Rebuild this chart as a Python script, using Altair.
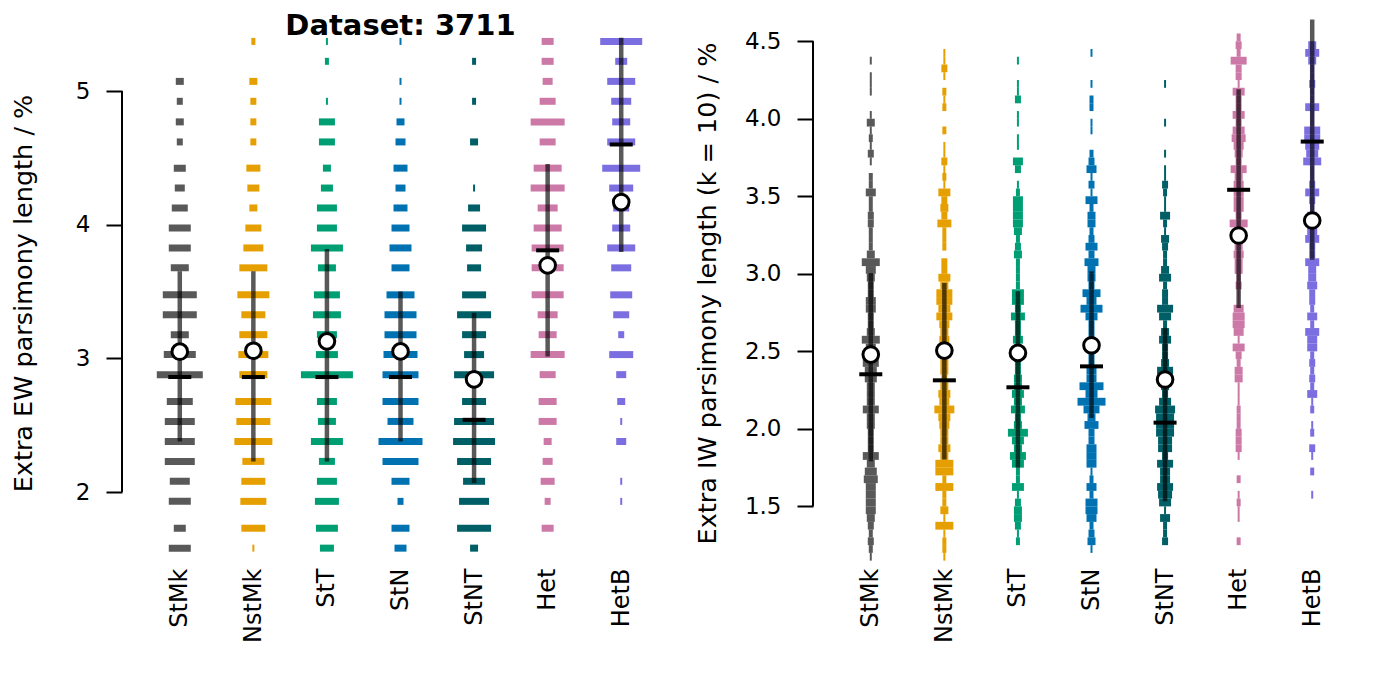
import altair as alt
import pandas as pd

cats = ["StMk", "NstMk", "StT", "StN", "StNT", "Het", "HetB"]
colors = ["#595959", "#E69F00", "#009E73", "#0072B2", "#005F66", "#CC79A7", "#7B6EE0"]

# ---------------- Left panel: extra EW parsimony length (%) ----------------
ew_levels = [5.371, 5.222, 5.072, 4.923, 4.769, 4.619, 4.423, 4.274, 4.125, 3.975,
             3.826, 3.677, 3.475, 3.326, 3.177, 3.028, 2.878, 2.677, 2.528, 2.378,
             2.229, 2.080, 1.930, 1.729, 1.580]
ew_counts = {
    "StMk":  [0, 0, 4, 3, 4, 3, 6, 5, 8, 11, 11, 9, 17, 17, 9, 16, 23, 13, 15, 15, 15, 10, 11, 6, 11],
    "NstMk": [2, 0, 4, 3, 3, 3, 7, 6, 4, 8, 10, 14, 16, 12, 14, 15, 14, 18, 17, 19, 11, 12, 13, 12, 1],
    "StT":   [1, 2, 0, 1, 8, 8, 4, 6, 10, 10, 16, 9, 13, 14, 10, 11, 26, 10, 9, 16, 8, 10, 12, 11, 7],
    "StN":   [1, 0, 1, 1, 4, 5, 7, 5, 7, 9, 11, 9, 14, 16, 16, 17, 18, 18, 13, 22, 18, 9, 3, 9, 6],
    "StNT":  [0, 2, 0, 2, 0, 4, 0, 1, 6, 12, 8, 7, 12, 17, 12, 10, 20, 12, 20, 21, 17, 11, 15, 17, 4],
    "Het":   [6, 6, 5, 8, 17, 8, 14, 17, 10, 14, 16, 16, 16, 10, 9, 17, 8, 9, 9, 4, 5, 7, 3, 6, 0],
    "HetB":  [21, 6, 14, 10, 9, 14, 19, 12, 8, 9, 14, 10, 11, 8, 3, 12, 5, 4, 1, 5, 0, 1, 1, 0, 0],
}
ew_lo = [2.378, 2.229, 2.229, 2.378, 2.067, 3.013, 3.796]
ew_hi = [3.652, 3.652, 3.818, 3.500, 3.341, 4.453, 5.398]
ew_median = [2.86, 2.86, 2.86, 2.86, 2.54, 3.808, 4.60]
ew_mean = [3.050, 3.057, 3.127, 3.052, 2.843, 3.696, 4.169]

# ---------------- Right panel: extra IW parsimony length (k = 10) (%) ----------------
iw_bin_top = 4.65
iw_bin_width = 0.05
iw_counts = {
    "StMk":  [0, 0, 0, 0, 0, 1, 0, 1, 1, 1, 0, 0, 1, 4, 1, 2, 1, 3, 1, 0, 2, 2,
              5, 2, 2, 3, 3, 2, 2, 2, 4, 9, 5, 4, 3, 3, 5, 5, 3, 3, 4, 9,
              5, 5, 8, 6, 6, 4, 4, 4, 8, 4, 4, 3, 3, 3, 8, 4, 6, 7, 5, 5, 5,
              5, 4, 3, 2, 3, 2, 1],
    "NstMk": [0, 0, 0, 0, 1, 1, 3, 1, 0, 2, 1, 2, 0, 0, 2, 0, 1, 1, 3, 1, 2, 1,
              6, 3, 4, 3, 7, 2, 2, 2, 0, 3, 3, 6, 4, 8, 8, 6, 8, 5, 4, 5, 3,
              3, 4, 4, 3, 4, 6, 5, 10, 6, 5, 4, 4, 6, 4, 9, 9, 2, 9, 2, 2,
              4, 1, 9, 1, 2, 2, 1],
    "StT":   [0, 0, 0, 0, 0, 1, 0, 0, 1, 1, 3, 0, 1, 1, 0, 1, 1, 0, 5, 3, 0, 1,
              2, 5, 5, 5, 5, 4, 2, 3, 4, 2, 2, 2, 2, 6, 6, 3, 7, 3, 3, 5, 3,
              3, 3, 3, 4, 4, 6, 4, 7, 3, 4, 10, 6, 4, 8, 6, 2, 2, 6, 1, 3,
              4, 4, 3, 1, 2, 0, 0],
    "StN":   [0, 0, 0, 0, 1, 0, 0, 0, 1, 0, 2, 2, 0, 1, 1, 0, 0, 2, 3, 5, 1, 3,
              1, 6, 2, 4, 4, 2, 3, 6, 3, 7, 4, 4, 3, 9, 5, 11, 6, 3, 3, 3,
              3, 3, 3, 5, 5, 12, 6, 14, 8, 4, 7, 3, 3, 5, 5, 5, 1, 2, 5, 2,
              6, 6, 5, 2, 3, 4, 1, 0],
    "StNT":  [0, 0, 0, 0, 0, 0, 0, 0, 1, 0, 0, 0, 0, 1, 0, 0, 0, 1, 0, 1, 1, 3,
              2, 1, 1, 5, 2, 1, 4, 3, 2, 2, 4, 6, 2, 3, 3, 8, 6, 2, 4, 6, 3,
              3, 4, 8, 4, 4, 3, 6, 10, 9, 9, 9, 7, 7, 3, 8, 5, 5, 8, 7, 6,
              1, 5, 2, 2, 3, 0, 0],
    "Het":   [0, 0, 2, 3, 2, 8, 3, 3, 1, 6, 3, 3, 6, 3, 6, 7, 5, 4, 3, 8, 4, 5,
              5, 5, 5, 3, 9, 4, 4, 4, 5, 4, 4, 2, 3, 1, 1, 5, 6, 6, 5, 1, 6,
              3, 2, 4, 4, 1, 1, 1, 2, 2, 2, 3, 3, 3, 1, 0, 0, 2, 0, 1, 2,
              1, 1, 0, 0, 2, 0, 0],
    "HetB":  [0, 0, 0, 4, 7, 4, 2, 2, 3, 2, 2, 7, 2, 2, 8, 8, 7, 6, 9, 2, 2, 3,
              7, 3, 2, 5, 5, 5, 7, 3, 3, 7, 4, 4, 5, 3, 3, 2, 5, 2, 7, 5, 5,
              2, 3, 2, 3, 2, 5, 1, 2, 0, 1, 2, 0, 3, 1, 0, 2, 0, 0, 1, 0,
              0, 0, 0, 0, 0, 0, 0],
}
iw_lo = [1.791, 1.802, 1.749, 2.070, 1.533, 2.780, 3.090]
iw_hi = [3.005, 2.940, 2.887, 3.016, 2.650, 4.190, 4.640]
iw_median = [2.352, 2.313, 2.268, 2.403, 2.040, 3.542, 3.853]
iw_mean = [2.479, 2.505, 2.490, 2.539, 2.318, 3.247, 3.344]

n_bins = len(iw_counts["StMk"])
iw_levels = [round(iw_bin_top - iw_bin_width * (i + 0.5), 4) for i in range(n_bins)]

FONT = "DejaVu Sans"
W = 515
H = 552


def make_bars(levels, counts):
    rows = []
    for c in cats:
        for v, n in zip(levels, counts[c]):
            if n > 0:
                rows.append({"cat": c, "y": v, "n": n})
    return pd.DataFrame(rows)


def make_stats(lo, hi, med, mean):
    return pd.DataFrame({"cat": cats, "lo": lo, "hi": hi, "med": med, "mean": mean})


def panel(bars, stats, ydomain, ticks, fmt, title, thick, axis_lo, axis_hi,
          title_x, heading=None):
    xs = alt.X("cat:N", sort=cats,
               scale=alt.Scale(type="point", domain=cats, padding=0.5),
               axis=alt.Axis(title=None, domain=False, ticks=False, labelAngle=270,
                             labelFont=FONT, labelFontSize=24, labelColor="black",
                             labelPadding=8))
    ysc = alt.Scale(domain=ydomain, nice=False, zero=False)
    yax = alt.Axis(values=ticks, format=fmt, domain=False, grid=False, tickSize=16,
                   tickWidth=2, tickColor="black", offset=21, labelFont=FONT,
                   labelFontSize=23, labelColor="black", labelPadding=16,
                   title=title, titleFont=FONT, titleFontSize=25.5, titleFontWeight="normal",
                   titleColor="black", titleX=title_x, titleY=285, titleAngle=270,
                   titleBaseline="middle", titleAlign="center")
    color = alt.Color("cat:N", scale=alt.Scale(domain=cats, range=colors), legend=None)

    b = alt.Chart(bars).transform_calculate(w="2*datum.n").mark_tick(
        thickness=thick, opacity=1, orient="horizontal").encode(
        x=xs, y=alt.Y("y:Q", scale=ysc, axis=yax),
        size=alt.Size("w:Q", scale=None), color=color)
    r = alt.Chart(stats).mark_rule(strokeWidth=4.5, color="black", opacity=0.65).encode(
        x=xs, y=alt.Y("lo:Q", scale=ysc, axis=yax), y2="hi:Q")
    m = alt.Chart(stats).mark_tick(color="black", thickness=4, size=23, opacity=1,
                                   orient="horizontal").encode(
        x=xs, y=alt.Y("med:Q", scale=ysc, axis=yax))
    c = alt.Chart(stats).mark_circle(size=245, color="white", stroke="black",
                                     strokeWidth=3, opacity=1).encode(
        x=xs, y=alt.Y("mean:Q", scale=ysc, axis=yax))
    ax = alt.Chart(pd.DataFrame({"a": [0]})).mark_rule(color="black", strokeWidth=2).encode(
        x=alt.value(-21), y=alt.datum(axis_lo, scale=ysc), y2=alt.datum(axis_hi))
    layers = [b, r, m, c, ax]
    if heading:
        t = alt.Chart(pd.DataFrame({"a": [0]})).mark_text(
            text=heading, font=FONT, fontSize=29, fontWeight="bold", color="black",
            align="center", baseline="top").encode(x=alt.value(W / 2), y=alt.value(4))
        layers.append(t)
    return alt.layer(*layers).properties(width=W, height=H)


left = panel(make_bars(ew_levels, ew_counts), make_stats(ew_lo, ew_hi, ew_median, ew_mean),
             [1.4913, 5.621], [2, 3, 4, 5], "d", "Extra EW parsimony length / %",
             7, 2, 5, -99, heading="Dataset: 3711")
right = panel(make_bars(iw_levels, iw_counts), make_stats(iw_lo, iw_hi, iw_median, iw_mean),
              [1.154, 4.7146], [1.5, 2.0, 2.5, 3.0, 3.5, 4.0, 4.5], ".1f",
              "Extra IW parsimony length (k = 10) / %", 7.8, 1.5, 4.5, -106)

chart = alt.hconcat(left, right, spacing=37).properties(
    padding={"left": 3, "top": 0, "right": 0, "bottom": 0},
    background="white").configure_view(stroke=None, strokeWidth=0)

chart.save("out.html", embed_options={"renderer": "svg", "actions": False})
